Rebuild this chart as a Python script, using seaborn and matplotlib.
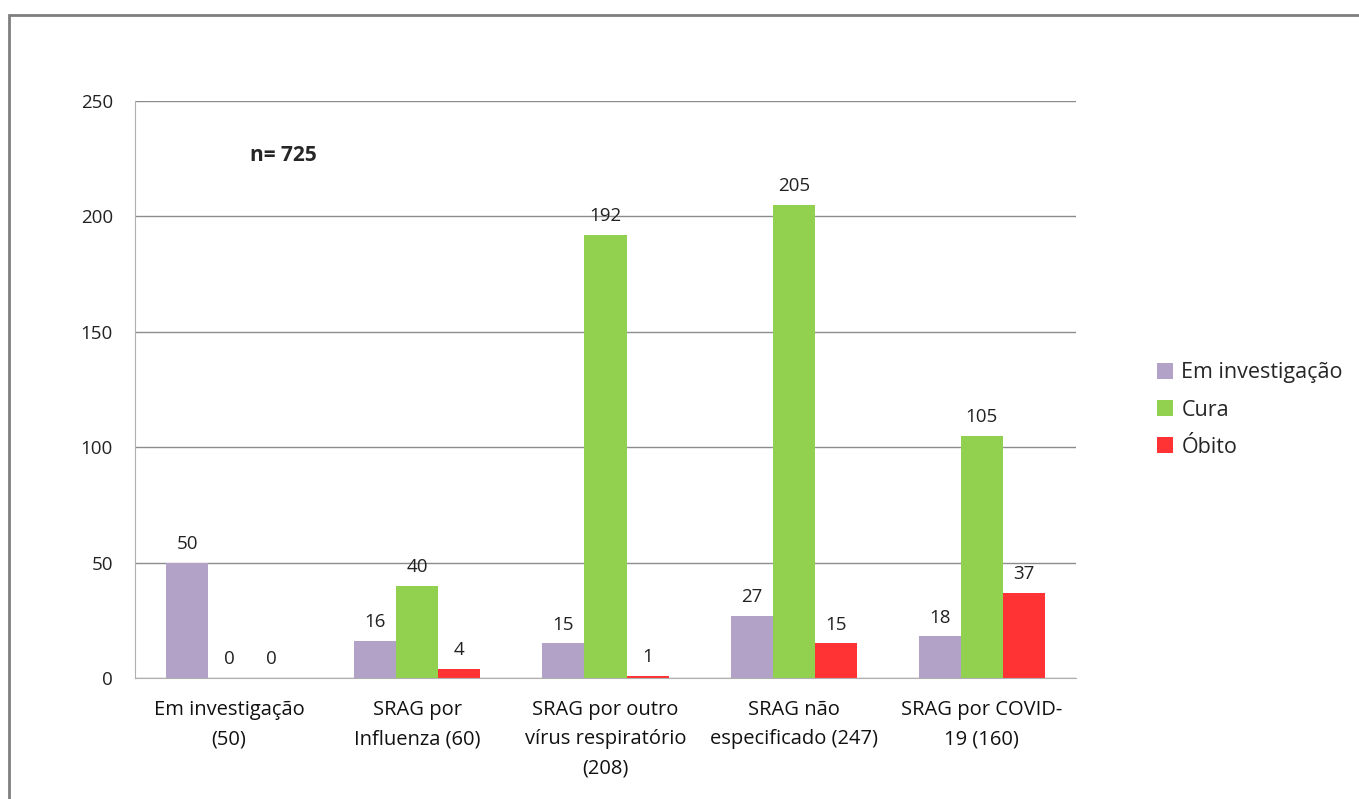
import pandas as pd
import numpy as np
import matplotlib
matplotlib.use("Agg")
import matplotlib.pyplot as plt
import seaborn as sns
from matplotlib.patches import Rectangle

# dados
categorias = ['Em investigação\n(50)', 'SRAG por\nInfluenza (60)',
              'SRAG por outro\nvírus respiratório\n(208)',
              'SRAG não\nespecificado (247)', 'SRAG por COVID-\n19 (160)']
em_investigacao = [50, 16, 15, 27, 18]
cura = [0, 40, 192, 205, 105]
obito = [0, 4, 1, 15, 37]
desfechos = ['Em investigação', 'Cura', 'Óbito']
cores = ['#B3A2C7', '#92D050', '#FF3333']

df = pd.DataFrame({'categoria': categorias * 3,
                   'desfecho': np.repeat(desfechos, len(categorias)),
                   'valor': em_investigacao + cura + obito})

sns.set_style('white')
plt.rcParams['font.family'] = ['Open Sans', 'DejaVu Sans']

fig = plt.figure(figsize=(13.59, 7.99), dpi=100)
ax = fig.add_axes([135/1359, 1-678/799, (1076-135)/1359, (678-101)/799])

sns.barplot(data=df, x='categoria', y='valor', hue='desfecho', order=categorias,
            hue_order=desfechos, palette=cores, width=0.67, saturation=1,
            linewidth=0, ax=ax, legend=True)

for cont in ax.containers:
    ax.bar_label(cont, fmt='%d', padding=7, fontsize=13.5, color='#222222')

ax.set_ylim(0, 250)
ax.set_xlim(-0.5, len(categorias) - 0.5)
ax.set_yticks(range(0, 251, 50))
ax.yaxis.grid(True, color='#8c8c8c', linewidth=1)
ax.set_axisbelow(True)
ax.set_xlabel('')
ax.set_ylabel('')
for s in ['top', 'right']:
    ax.spines[s].set_visible(False)
ax.spines['left'].set_color('#b0b0b0')
ax.spines['bottom'].set_color('#b0b0b0')
ax.tick_params(axis='y', length=7, color='#8c8c8c', labelsize=13.5, labelcolor='#222222', pad=9)
ax.tick_params(axis='x', which='major', length=0, labelsize=14.5, labelcolor='#111111', pad=16)
for t in ax.get_xticklabels():
    t.set_linespacing(1.6)
ax.set_xticks(np.arange(-0.5, len(categorias)), minor=True)
ax.tick_params(axis='x', which='minor', length=7, color='#b0b0b0')

ax.text(0.122, 0.906, 'n= 725', transform=ax.transAxes, fontsize=15,
        fontweight='bold', va='center', ha='left')

h, l = ax.get_legend_handles_labels()
ax.legend(h, l, loc='center left', bbox_to_anchor=(1148/1359, 1-410/799),
          bbox_transform=fig.transFigure, frameon=False, fontsize=15.5,
          handlelength=0.75, handleheight=0.75, handletextpad=0.4, labelspacing=0.75,
          borderaxespad=0)

fig.patches.append(Rectangle((9/1359, -0.1), 1.2, 0.1 + 1-15/799, transform=fig.transFigure,
                             fill=False, edgecolor='#7f7f7f', linewidth=2, zorder=0))

fig.savefig('out.png', dpi=100)
